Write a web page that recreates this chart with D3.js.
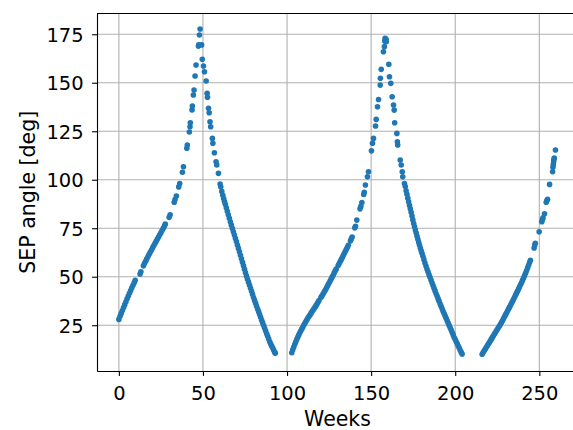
<!DOCTYPE html>
<html>
<head>
<meta charset="utf-8">
<script src="https://cdn.jsdelivr.net/npm/d3@7"></script>
<style>
  html, body { margin: 0; padding: 0; background: #ffffff; }
  svg { display: block; }
  text { font-family: "DejaVu Sans", sans-serif; fill: #000; }
</style>
</head>
<body>
<svg id="chart" width="573" height="430"></svg>
<script>
// ---- data ----
const weeks = [
  0,0.7,1.4,2.1,2.8,3.5,4.2,4.9,5.6,6.3,7.0,7.7,8.4,9.1,9.7,
  12.6,13.1,14.6,15.2,15.9,16.6,17.3,18.0,18.7,19.4,20.1,20.8,21.5,22.2,22.9,23.6,24.3,25.0,25.7,26.4,27.1,27.6,
  29.9,30.5,32.9,33.4,34.2,35.6,36.2,37.8,38.4,40.4,40.7,41.9,42.3,42.5,43.5,43.7,44.3,44.7,45.3,45.9,47.3,47.5,47.9,48.3,
  49.2,49.6,50.3,50.9,51.9,52.5,52.7,53.3,53.7,54.2,54.6,55.6,55.9,56.8,57.8,58.2,59.2,60.2,60.6,61.2,61.8,62.3,62.8,
  63.3,63.9,64.5,65.1,65.7,66.3,66.9,67.5,68.1,68.7,69.3,69.9,70.5,71.1,71.7,72.3,72.9,73.5,74.1,74.7,75.3,75.9,
  76.5,77.1,77.7,78.3,78.9,79.5,80.1,80.7,81.3,81.9,82.5,83.1,83.7,84.3,84.9,85.5,86.1,86.7,87.3,87.9,88.5,89.1,
  89.7,90.3,90.9,91.5,92.1,92.7,93.0,
  102.8,103.4,104.0,104.6,105.2,105.8,106.4,107.0,107.6,108.2,108.8,109.4,110.0,110.6,111.2,111.8,112.4,113.0,
  113.6,114.2,114.8,115.4,116.0,116.6,117.2,117.8,118.4,119.0,
  120.2,120.7,121.4,122.0,122.6,123.2,123.8,124.4,125.0,125.6,126.2,126.8,127.4,128.0,128.6,129.2,
  130.4,131.0,131.6,132.2,132.8,133.4,134.0,134.6,135.2,135.8,136.4,
  137.7,138.2,138.7,140.3,140.7,141.5,143.4,143.9,144.5,145.6,145.9,146.6,147.8,148.4,150.2,150.8,151.4,152.6,
  153.0,153.8,154.4,155.4,155.5,156.0,157.3,157.9,158.1,158.3,158.9,159.0,
  160.5,160.9,161.7,162.5,163.3,163.7,164.0,165.3,165.6,165.8,167.3,167.9,168.5,168.8,169.8,170.3,170.8,171.3,
  171.8,172.3,172.8,173.3,173.8,174.3,174.8,175.3,175.8,176.3,176.8,177.3,177.8,178.3,178.8,179.3,179.8,180.3,
  180.8,181.4,182.0,182.6,183.2,183.8,184.4,185.0,185.6,186.2,186.8,187.4,188.0,188.6,189.2,189.8,190.4,191.0,
  191.6,192.2,192.8,193.4,194.0,194.6,195.2,195.8,196.4,197.0,197.6,198.2,198.8,199.4,200.0,200.6,201.2,201.8,
  202.4,203.0,203.6,204.1,
  216.0,216.6,217.2,217.8,218.4,219.0,219.6,220.2,220.8,221.4,222.0,222.6,223.2,223.8,224.4,225.0,225.6,226.2,
  226.8,227.4,228.0,228.6,229.2,229.8,230.4,231.0,231.6,232.2,232.8,233.4,234.0,234.6,235.2,235.8,236.4,237.0,
  237.6,238.2,238.8,239.4,240.0,240.6,241.2,241.8,242.4,243.0,243.6,244.2,244.7,
  246.9,247.3,247.6,249.9,251.5,251.9,252.2,253.1,254.1,254.5,254.9,256.1,257.9,258.1,258.3,258.5,258.7,258.9,259.6
];
const sepAngle = [
  28.0,29.6,31.1,32.6,34.1,35.6,37.1,38.6,40.0,41.5,42.9,44.3,45.6,46.9,48.1,
  51.4,52.6,55.6,56.8,58.0,59.2,60.4,61.6,62.7,63.8,65.0,66.1,67.2,68.3,69.4,70.5,71.6,72.7,73.8,75.0,76.2,77.1,
  80.6,81.9,88.4,89.8,91.6,96.3,98.0,103.8,106.7,116.2,117.9,124.6,127.3,129.4,136.0,138.0,143.7,146.2,153.5,159.1,168.9,169.5,174.6,177.7,
  169.5,162.1,158.6,155.7,150.9,144.5,142.5,136.8,134.5,129.9,127.3,121.3,118.8,113.9,109.3,107.6,103.3,97.8,96.4,94.0,92.0,90.3,88.8,
  87.3,85.5,83.7,81.9,80.1,78.3,76.6,74.9,73.2,71.5,69.8,68.1,66.3,64.6,62.9,61.1,59.3,57.5,55.7,53.9,52.1,50.3,
  48.7,47.2,45.6,44.0,42.5,40.9,39.3,37.8,36.3,34.8,33.4,32.0,30.5,29.1,27.6,26.2,24.8,23.4,22.0,20.6,19.3,17.9,
  16.5,15.3,14.2,13.2,12.1,11.1,10.5,
  10.8,12.3,13.8,15.2,16.5,17.7,18.9,20.0,21.1,22.1,23.1,24.1,25.1,26.0,26.9,27.8,28.7,29.5,
  30.3,31.1,31.9,32.7,33.5,34.3,35.1,35.9,36.8,37.7,
  39.4,40.1,41.1,42.0,42.9,43.8,44.8,45.8,46.8,47.8,48.8,49.8,50.8,51.9,52.9,53.9,
  55.8,56.8,57.8,58.8,59.8,60.9,61.9,63.0,64.0,65.1,66.2,
  68.5,69.5,70.5,75.2,76.0,79.2,85.0,86.3,88.3,92.4,93.5,97.3,101.5,104.1,114.9,118.8,121.3,127.7,
  131.1,137.6,141.4,148.8,152.3,156.9,166.0,168.6,171.5,172.9,172.4,171.1,
  159.5,153.1,149.7,142.8,138.5,135.9,129.4,123.9,119.6,117.9,110.2,107.6,104.1,101.5,98.0,96.5,94.3,92.5,
  90.5,88.6,86.8,85.0,83.2,81.3,79.3,77.4,75.7,74.1,72.5,70.9,69.3,67.7,66.2,64.7,63.3,61.9,
  60.5,58.8,57.1,55.5,54.0,52.6,51.1,49.7,48.3,46.9,45.5,44.1,42.7,41.3,40.0,38.7,37.4,36.1,
  34.8,33.5,32.2,31.0,29.8,28.6,27.3,26.1,24.9,23.7,22.5,21.2,20.0,18.7,17.6,16.5,15.4,14.3,
  13.2,12.1,11.0,10.1,
  10.0,10.9,11.8,12.6,13.5,14.3,15.2,16.0,16.9,17.7,18.6,19.4,20.3,21.1,22.0,22.8,23.7,24.5,
  25.4,26.3,27.2,28.2,29.2,30.2,31.2,32.2,33.2,34.2,35.2,36.2,37.2,38.2,39.3,40.4,41.4,42.5,
  43.6,44.7,45.8,46.9,48.1,49.3,50.5,51.8,53.1,54.5,55.9,57.3,58.5,
  64.8,66.3,67.2,73.2,78.4,79.6,80.4,82.5,88.4,89.3,89.9,97.6,104.1,106.4,107.8,109.3,110.5,111.2,115.3
];
const xTicks = [0, 50, 100, 150, 200, 250];
const yTicks = [25, 50, 75, 100, 125, 150, 175];
const xLabel = "Weeks";
const yLabel = "SEP angle [deg]";

// ---- layout ----
const W = 573, H = 430;
const plotLeft = 97, plotRight = 578, plotTop = 13.5, plotBottom = 371;
const tickFont = 19.5, labelFont = 20.5;
const color = "#1f77b4";

const svg = d3.select("#chart");

const x = d3.scaleLinear().domain([-13, 273]).range([plotLeft, plotRight]);
const y = d3.scaleLinear().domain([1.4, 185.7]).range([plotBottom, plotTop]);

svg.append("defs").append("clipPath").attr("id", "plotclip")
  .append("rect").attr("x", plotLeft).attr("y", plotTop)
  .attr("width", plotRight - plotLeft).attr("height", plotBottom - plotTop);

// grid
const grid = svg.append("g").attr("class", "grid");
grid.selectAll("line.gx").data(xTicks).enter().append("line")
  .attr("x1", d => x(d)).attr("x2", d => x(d))
  .attr("y1", plotTop).attr("y2", plotBottom)
  .attr("stroke", "#b0b0b0").attr("stroke-width", 1.1);
grid.selectAll("line.gy").data(yTicks).enter().append("line")
  .attr("y1", d => y(d)).attr("y2", d => y(d))
  .attr("x1", plotLeft).attr("x2", plotRight)
  .attr("stroke", "#b0b0b0").attr("stroke-width", 1.1);

// points
const points = weeks.map((w, i) => ({ w: w, v: sepAngle[i] }));
svg.append("g").attr("clip-path", "url(#plotclip)")
  .selectAll("circle").data(points).enter().append("circle")
  .attr("cx", d => x(d.w)).attr("cy", d => y(d.v))
  .attr("r", 2.8).attr("fill", color);

// axes
const xAxis = d3.axisBottom(x).tickValues(xTicks).tickSize(4.9).tickSizeOuter(0).tickPadding(10.5);
const yAxis = d3.axisLeft(y).tickValues(yTicks).tickSize(4.9).tickSizeOuter(0).tickPadding(8.5);

const gx = svg.append("g").attr("transform", `translate(0,${plotBottom})`).call(xAxis);
const gy = svg.append("g").attr("transform", `translate(${plotLeft},0)`).call(yAxis);

[gx, gy].forEach(g => {
  g.selectAll("text").attr("font-size", tickFont).attr("font-family", "DejaVu Sans").attr("fill", "#000");
  g.selectAll("line").attr("stroke", "#000").attr("stroke-width", 1.1);
  g.select(".domain").attr("stroke", "#000").attr("stroke-width", 1.1);
});
gy.selectAll("text").attr("dy", "0.36em");

// top spine
svg.append("line")
  .attr("x1", plotLeft).attr("x2", plotRight)
  .attr("y1", plotTop).attr("y2", plotTop)
  .attr("stroke", "#000").attr("stroke-width", 1.1);
// right spine (falls outside the picture like the reference)
svg.append("line")
  .attr("x1", plotRight).attr("x2", plotRight)
  .attr("y1", plotTop).attr("y2", plotBottom)
  .attr("stroke", "#000").attr("stroke-width", 1.1);

// axis labels
svg.append("text")
  .attr("x", (plotLeft + plotRight) / 2).attr("y", 426)
  .attr("text-anchor", "middle").attr("font-size", labelFont)
  .text(xLabel);

svg.append("text")
  .attr("transform", `translate(35,${(plotTop + plotBottom) / 2}) rotate(-90)`)
  .attr("text-anchor", "middle").attr("font-size", labelFont)
  .text(yLabel);
</script>
</body>
</html>
